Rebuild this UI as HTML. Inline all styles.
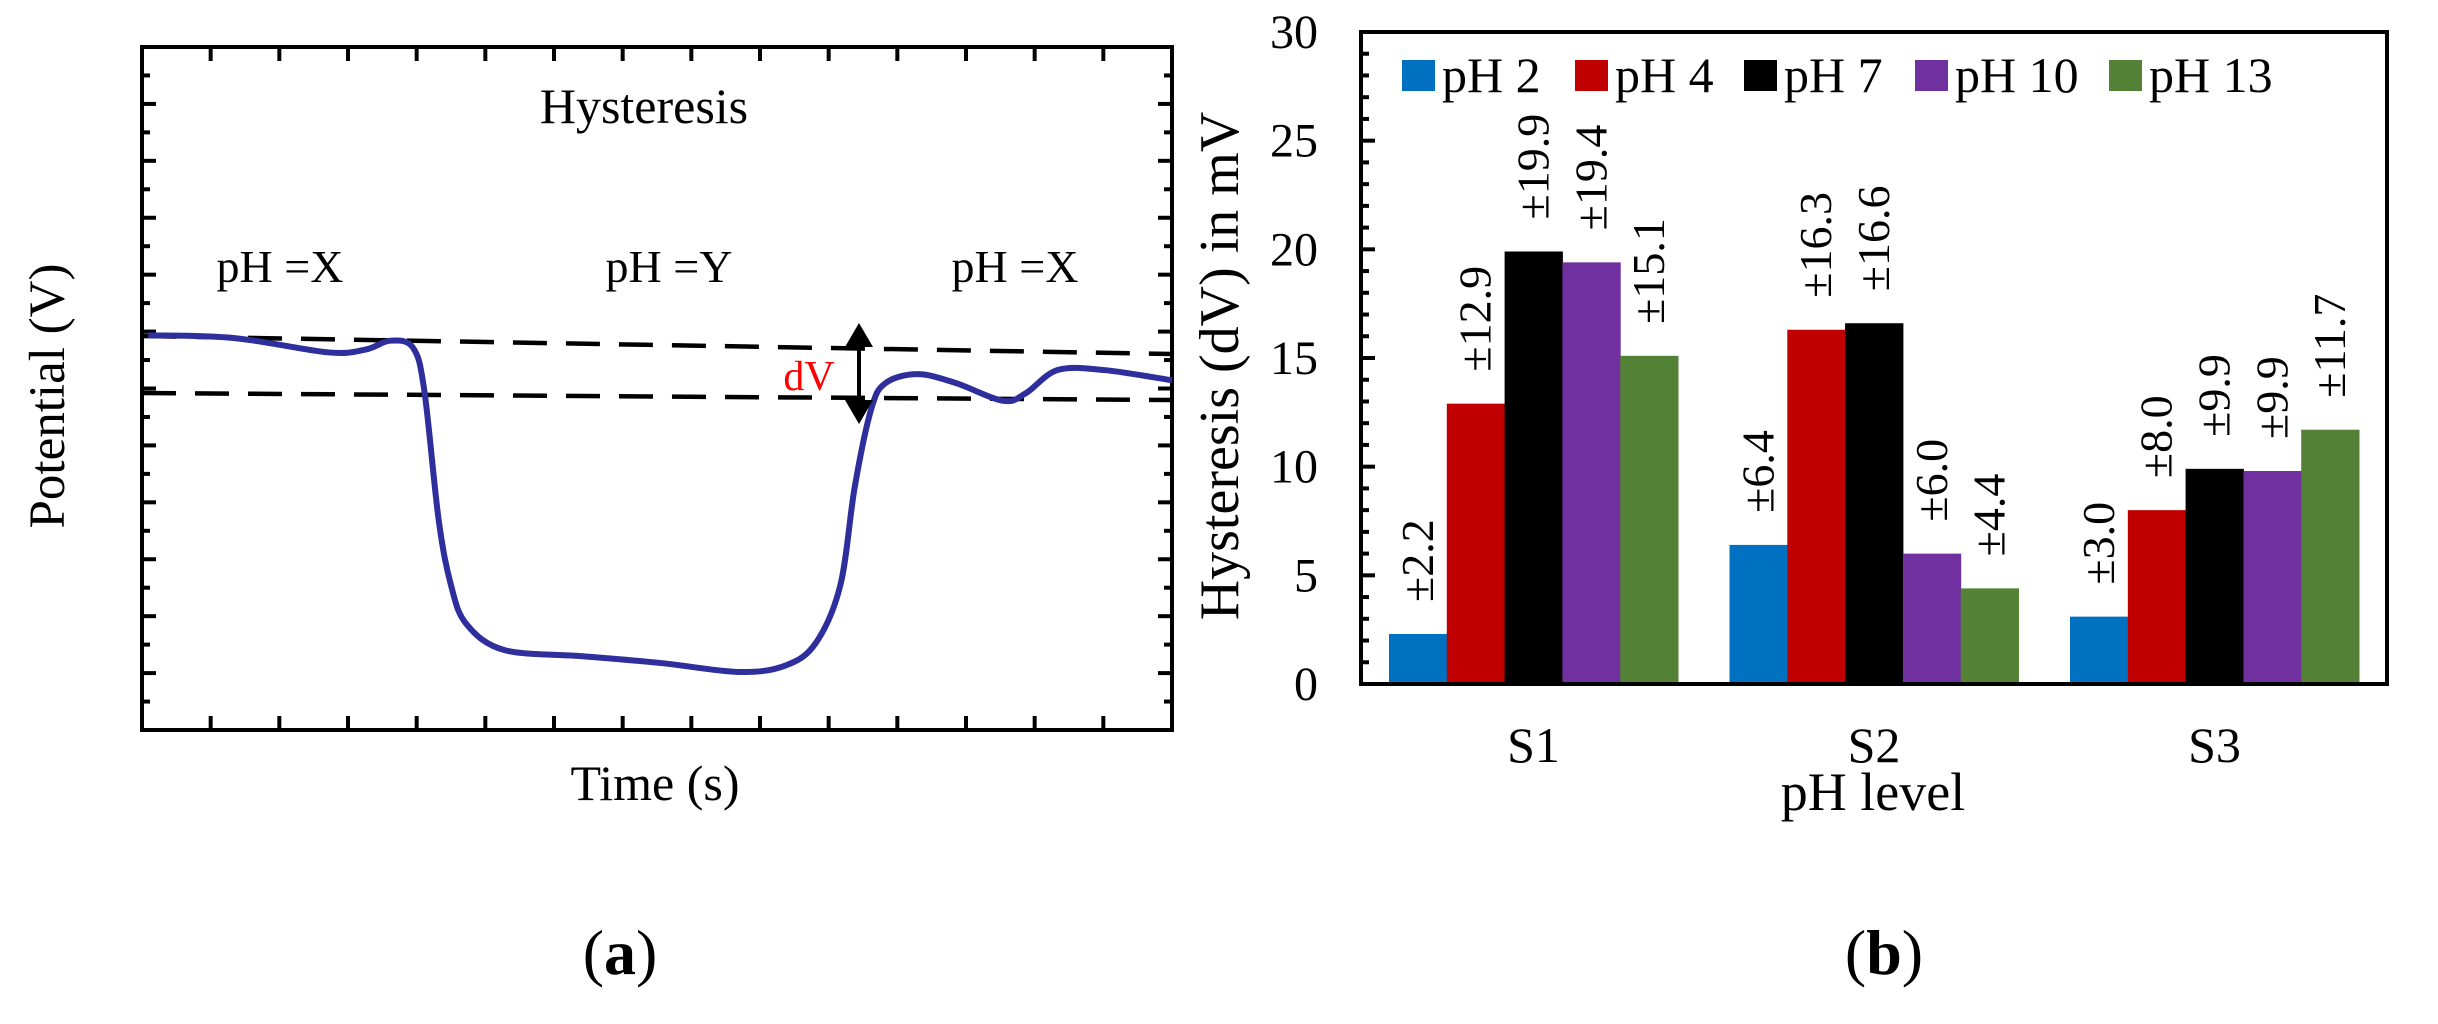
<!DOCTYPE html>
<html><head><meta charset="utf-8"><style>
html,body{margin:0;padding:0;background:#fff;font-family:"Liberation Serif","DejaVu Serif",serif;}
svg, svg text{font-family:"Liberation Serif","DejaVu Serif",serif !important;}
</style></head><body>
<svg width="2438" height="1019" viewBox="0 0 2438 1019" xmlns="http://www.w3.org/2000/svg" font-family="Liberation Serif, DejaVu Serif, serif">
<g id="panelA">
  <rect x="142" y="47" width="1030" height="683" fill="none" stroke="#000" stroke-width="4"/>
  <g id="ticksA"></g>
  <line x1="142" y1="336" x2="1172" y2="354" stroke="#000" stroke-width="4.5" stroke-dasharray="34,19"/>
  <line x1="142" y1="393" x2="1172" y2="400" stroke="#000" stroke-width="4.5" stroke-dasharray="34,19"/>
  <path id="curve" fill="none" stroke="#2e2e9c" stroke-width="6"/>
  <line x1="859" y1="340" x2="859" y2="408" stroke="#000" stroke-width="4"/>
  <polygon points="859,323 845,347 873,347" fill="#000"/>
  <polygon points="859,424 845,400 873,400" fill="#000"/>
  <text x="809" y="390" font-size="42" text-anchor="middle" style="fill:#f00">dV</text>
  <text x="644" y="123" font-size="50" text-anchor="middle">Hysteresis</text>
  <text x="280" y="282" font-size="46" text-anchor="middle">pH =X</text>
  <text x="669" y="282" font-size="46" text-anchor="middle">pH =Y</text>
  <text x="1015" y="282" font-size="46" text-anchor="middle">pH =X</text>
  <text x="655" y="800" font-size="50" text-anchor="middle">Time (s)</text>
  <text transform="translate(64,396) rotate(-90)" font-size="51" text-anchor="middle">Potential (V)</text>
  <text x="620" y="974" font-size="64" text-anchor="middle">(<tspan font-weight="bold">a</tspan>)</text>
</g>
<g id="panelB">
  <g id="barsB"></g>
  <g id="ticksB"></g>
  <rect x="1361" y="32" width="1026" height="652" fill="none" stroke="#000" stroke-width="4"/>
  <g id="legendB"></g>
  <text transform="translate(1238,366) rotate(-90)" font-size="56" text-anchor="middle">Hysteresis (dV) in mV</text>
  <text x="1873" y="810" font-size="54" text-anchor="middle">pH level</text>
  <text x="1884" y="974" font-size="64" text-anchor="middle">(<tspan font-weight="bold">b</tspan>)</text>
</g>
</svg>
<script>
const NS="http://www.w3.org/2000/svg";
// ---- Panel A data (normalized time 0..1, potential arbitrary 0..1) ----
const curveT=[0.006,0.089,0.180,0.217,0.241,0.263,0.274,0.288,0.300,0.315,0.352,0.428,0.504,0.579,0.624,0.654,0.678,0.692,0.708,0.722,0.753,0.790,0.836,0.858,0.889,0.934,1.0];
const curveV=[0.578,0.574,0.553,0.557,0.570,0.560,0.498,0.308,0.212,0.155,0.117,0.108,0.098,0.085,0.094,0.127,0.212,0.356,0.470,0.508,0.521,0.508,0.482,0.493,0.527,0.527,0.512];
function ax(t){return 142+t*1030;}
function ay(v){return 730-v*683;}
(function(){
  const px=curveT.map(ax), py=curveV.map(ay);
  let d="M"+px[0]+","+py[0];
  for(let i=0;i<px.length-1;i++){
    const p0=[px[Math.max(0,i-1)],py[Math.max(0,i-1)]],p1=[px[i],py[i]],p2=[px[i+1],py[i+1]],p3=[px[Math.min(px.length-1,i+2)],py[Math.min(px.length-1,i+2)]];
    const c1=[p1[0]+(p2[0]-p0[0])/6,p1[1]+(p2[1]-p0[1])/6],c2=[p2[0]-(p3[0]-p1[0])/6,p2[1]-(p3[1]-p1[1])/6];
    d+=" C"+c1.join(",")+" "+c2.join(",")+" "+p2.join(",");
  }
  document.getElementById('curve').setAttribute('d',d);
  const g=document.getElementById('ticksA');
  for(let i=1;i<15;i++){
    const x=142+i*1030/15;
    [[47,61],[730,716]].forEach(([a,b])=>{const l=document.createElementNS(NS,'line');
      l.setAttribute('x1',x);l.setAttribute('x2',x);l.setAttribute('y1',a);l.setAttribute('y2',b);
      l.setAttribute('stroke','#000');l.setAttribute('stroke-width','4');
      
      
      g.appendChild(l);});
  }
  for(let i=1;i<24;i++){
    const y=47+i*683/24, len=(i%2===0)?14:8;
    [[142,142+len],[1172,1172-len]].forEach(([a,b])=>{const l=document.createElementNS(NS,'line');
      l.setAttribute('x1',a);l.setAttribute('x2',b);l.setAttribute('y1',y);l.setAttribute('y2',y);
      l.setAttribute('stroke','#000');l.setAttribute('stroke-width','4');
      
      
      g.appendChild(l);});
  }
})();
// ---- Panel B data ----
const categories=["S1","S2","S3"];
const seriesNames=["pH 2","pH 4","pH 7","pH 10","pH 13"];
const seriesColors=["#0070c0","#c00000","#000000","#7030a0","#538135"];
const ph2=[2.3,6.4,3.1];
const ph4=[12.9,16.3,8.0];
const ph7=[19.9,16.6,9.9];
const ph10=[19.4,6.0,9.8];
const ph13=[15.1,4.4,11.7];
const labels2=["±2.2","±6.4","±3.0"];
const labels4=["±12.9","±16.3","±8.0"];
const labels7=["±19.9","±16.6","±9.9"];
const labels10=["±19.4","±6.0","±9.9"];
const labels13=["±15.1","±4.4","±11.7"];
const yTicks=[0,5,10,15,20,25,30];
const yMax=30;
function by(v){return 684-v/yMax*652;}
function bandX(i){return 1361+28+i*340.5;}
(function(){
  const series=[ph2,ph4,ph7,ph10,ph13], labs=[labels2,labels4,labels7,labels10,labels13];
  const g=document.getElementById('barsB'), bw=57.8;
  categories.forEach((c,ci)=>{
    series.forEach((s,si)=>{
      const x=bandX(ci)+si*bw, y=by(s[ci]);
      const r=document.createElementNS(NS,'rect');
      r.setAttribute('x',x);r.setAttribute('y',y);r.setAttribute('width',bw+0.5);r.setAttribute('height',684-y);
      r.setAttribute('fill',seriesColors[si]);
      
      
      g.appendChild(r);
      const t=document.createElementNS(NS,'text');
      t.setAttribute('transform','translate('+(x+bw/2+15)+','+(y-32)+') rotate(-90)');
      t.setAttribute('font-size','46');
      t.textContent=labs[si][ci];
      
      
      g.appendChild(t);
    });
    const ct=document.createElementNS(NS,'text');
    ct.setAttribute('x',bandX(ci)+bw*2.5);ct.setAttribute('y',762);ct.setAttribute('font-size','50');ct.setAttribute('text-anchor','middle');
    ct.textContent=c;
    
    
    g.appendChild(ct);
  });
  const tg=document.getElementById('ticksB');
  for(let v=0;v<=yMax;v++){
    const l=document.createElementNS(NS,'line'), len=(v%5===0)?14:8;
    l.setAttribute('x1',1361);l.setAttribute('x2',1361+len);l.setAttribute('y1',by(v));l.setAttribute('y2',by(v));
    l.setAttribute('stroke','#000');l.setAttribute('stroke-width','4');
    
    
    tg.appendChild(l);
  }
  yTicks.forEach(v=>{
    const t=document.createElementNS(NS,'text');
    t.setAttribute('x',1318);t.setAttribute('y',by(v)+16);t.setAttribute('font-size','48');t.setAttribute('text-anchor','end');
    t.textContent=v;
    
    
    tg.appendChild(t);
  });
  const lg=document.getElementById('legendB');
  const lx=[1402,1575,1744,1915,2109];
  seriesNames.forEach((n,i)=>{
    const r=document.createElementNS(NS,'rect');
    r.setAttribute('x',lx[i]);r.setAttribute('y',60);r.setAttribute('width',33);r.setAttribute('height',31);r.setAttribute('fill',seriesColors[i]);
    
    
    lg.appendChild(r);
    const t=document.createElementNS(NS,'text');
    t.setAttribute('x',lx[i]+40);t.setAttribute('y',92);t.setAttribute('font-size','50');
    t.textContent=n;
    
    
    lg.appendChild(t);
  });
})();
</script>
</body></html>
